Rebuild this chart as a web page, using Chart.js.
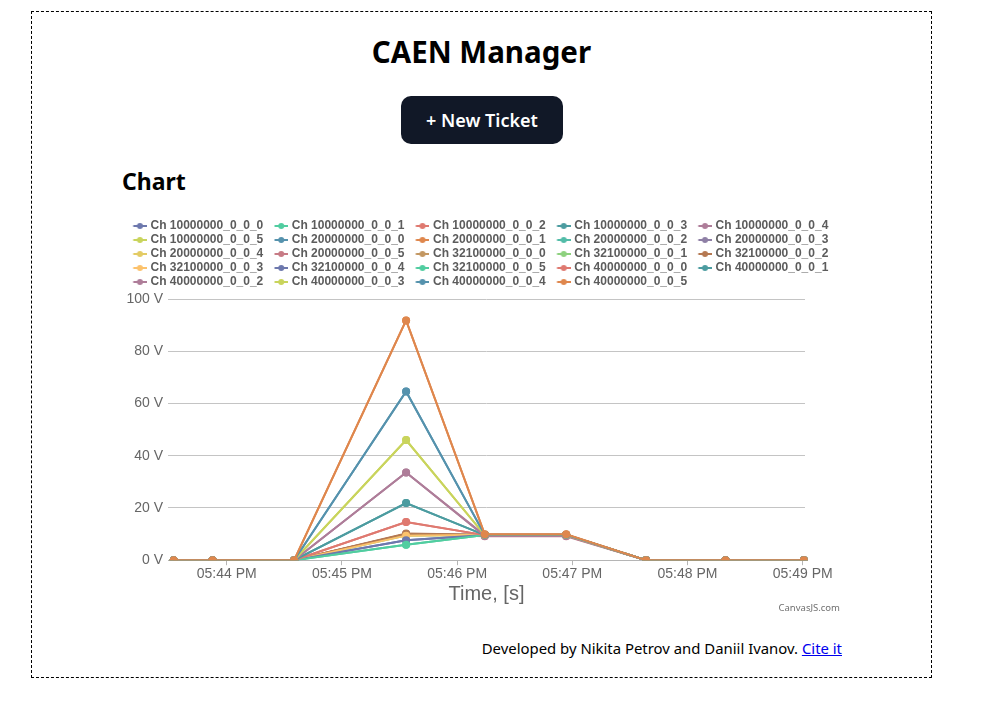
<!DOCTYPE html>
<html>
<head>
<meta charset="utf-8">
<title>CAEN Manager</title>
<script src="https://cdn.jsdelivr.net/npm/chart.js@4"></script>
<style>
  html, body { margin: 0; padding: 0; background: #fff; }
  body { position: relative; width: 981px; height: 726px; overflow: hidden; font-family: "Noto Sans", sans-serif; color: #000; }
  .frame { position: absolute; left: 31px; top: 11px; width: 899px; height: 665px; border: 1px dashed #000; }
  h1 { position: absolute; left: 31px; width: 901px; top: 32px; margin: 0; text-align: center; font-size: 29.5px; line-height: 40px; font-weight: 700; }
  .btn { position: absolute; left: 401px; top: 96px; width: 162px; height: 48px; border-radius: 10px; background: #111827; color: #fff; font-size: 18px; font-weight: 600; line-height: 48px; text-align: center; }
  h2 { position: absolute; left: 122px; top: 166px; margin: 0; font-size: 23px; line-height: 30px; font-weight: 700; }
  .chartbox { position: absolute; left: 122px; top: 210px; width: 720px; height: 394px; }
  .credit { position: absolute; right: 141px; top: 601px; font-family: "Noto Sans", sans-serif; font-size: 9.5px; line-height: 14px; color: #707070; }
  .footer { position: absolute; right: 139px; top: 637px; font-size: 14.9px; line-height: 22px; }
  .footer a { color: #0000ee; text-decoration: underline; }
</style>
</head>
<body>
<div class="frame"></div>
<h1>CAEN Manager</h1>
<div class="btn">+ New Ticket</div>
<h2>Chart</h2>
<div class="chartbox"><canvas id="chart"></canvas></div>
<div class="credit">CanvasJS.com</div>
<div class="footer">Developed by Nikita Petrov and Daniil Ivanov. <a href="#">Cite it</a></div>

<script>
// ---- data ----
const times = [43.54, 43.877, 44.585, 45.557, 46.24, 46.947, 47.64, 48.33, 49.01]; // minutes after 05:00 PM
const xTickValues = [44, 45, 46, 47, 48, 49];
const xTickLabels = ['05:44 PM', '05:45 PM', '05:46 PM', '05:47 PM', '05:48 PM', '05:49 PM'];
const yTickValues = [0, 20, 40, 60, 80, 100];
const yUnit = ' V';

const channelNames = [
  'Ch 10000000_0_0_0', 'Ch 10000000_0_0_1', 'Ch 10000000_0_0_2', 'Ch 10000000_0_0_3', 'Ch 10000000_0_0_4', 'Ch 10000000_0_0_5',
  'Ch 20000000_0_0_0', 'Ch 20000000_0_0_1', 'Ch 20000000_0_0_2', 'Ch 20000000_0_0_3', 'Ch 20000000_0_0_4', 'Ch 20000000_0_0_5',
  'Ch 32100000_0_0_0', 'Ch 32100000_0_0_1', 'Ch 32100000_0_0_2', 'Ch 32100000_0_0_3', 'Ch 32100000_0_0_4', 'Ch 32100000_0_0_5',
  'Ch 40000000_0_0_0', 'Ch 40000000_0_0_1', 'Ch 40000000_0_0_2', 'Ch 40000000_0_0_3', 'Ch 40000000_0_0_4', 'Ch 40000000_0_0_5'
];

const ch10_0 = [0, 0, 0, 7.6, 9.6, 9.6, 0, 0, 0];
const ch10_1 = [0, 0, 0, 5.9, 9.6, 9.6, 0, 0, 0];
const ch10_2 = [0, 0, 0, 14.6, 9.6, 9.6, 0, 0, 0];
const ch10_3 = [0, 0, 0, 21.9, 9.6, 9.6, 0, 0, 0];
const ch10_4 = [0, 0, 0, 33.6, 9.5, 9.5, 0, 0, 0];
const ch10_5 = [0, 0, 0, 46.0, 9.6, 9.6, 0, 0, 0];
const ch20_0 = [0, 0, 0, 64.6, 9.6, 9.6, 0, 0, 0];
const ch20_1 = [0, 0, 0, 91.8, 9.8, 9.8, 0, 0, 0];
const ch20_2 = [0, 0, 0, 9.8, 9.6, 9.6, 0, 0, 0];
const ch20_3 = [0, 0, 0, 9.9, 9.6, 9.6, 0, 0, 0];
const ch20_4 = [0, 0, 0, 9.7, 9.6, 9.6, 0, 0, 0];
const ch20_5 = [0, 0, 0, 10.0, 9.2, 9.2, 0, 0, 0];
const ch32_0 = [0, 0, 0, 10.0, 9.6, 9.6, 0, 0, 0];
const ch32_1 = [0, 0, 0, 9.4, 9.6, 9.6, 0, 0, 0];
const ch32_2 = [0, 0, 0, 10.2, 9.7, 9.7, 0, 0, 0];
const ch32_3 = [0, 0, 0, 9.4, 9.7, 9.7, 0, 0, 0];
const ch32_4 = [0, 0, 0, 7.6, 9.6, 9.6, 0, 0, 0];
const ch32_5 = [0, 0, 0, 5.9, 9.6, 9.6, 0, 0, 0];
const ch40_0 = [0, 0, 0, 14.6, 9.6, 9.6, 0, 0, 0];
const ch40_1 = [0, 0, 0, 21.9, 9.6, 9.6, 0, 0, 0];
const ch40_2 = [0, 0, 0, 33.6, 9.3, 9.3, 0, 0, 0];
const ch40_3 = [0, 0, 0, 46.0, 9.6, 9.6, 0, 0, 0];
const ch40_4 = [0, 0, 0, 64.6, 9.7, 9.7, 0, 0, 0];
const ch40_5 = [0, 0, 0, 91.8, 9.9, 9.9, 0, 0, 0];

const seriesList = [ch10_0, ch10_1, ch10_2, ch10_3, ch10_4, ch10_5,
                    ch20_0, ch20_1, ch20_2, ch20_3, ch20_4, ch20_5,
                    ch32_0, ch32_1, ch32_2, ch32_3, ch32_4, ch32_5,
                    ch40_0, ch40_1, ch40_2, ch40_3, ch40_4, ch40_5];

const palette = ['#6D78AD', '#51CDA0', '#DF7970', '#4C9CA0', '#AE7D99', '#C9D45C', '#5592AD', '#DF874D',
                 '#52BCA8', '#8E7FA5', '#E3CB64', '#C77B85', '#C39762', '#8DD17E', '#B57952', '#FCC26C'];

// ---- legend marker (line with dot) ----
function makeMarker(color) {
  const c = document.createElement('canvas');
  c.width = 25; c.height = 8;
  const g = c.getContext('2d');
  g.strokeStyle = color; g.lineWidth = 2;
  g.beginPath(); g.moveTo(11.5, 4); g.lineTo(25, 4); g.stroke();
  g.fillStyle = color;
  g.beginPath(); g.arc(18.2, 4, 3, 0, Math.PI * 2); g.fill();
  return c;
}
const markers = palette.map(makeMarker);

const N = channelNames.length;
const datasets = channelNames.map((name, i) => {
  const col = palette[i % palette.length];
  return {
    label: name,
    data: seriesList[i].map((v, k) => ({ x: times[k], y: v })),
    borderColor: col,
    backgroundColor: col,
    borderWidth: 2,
    pointRadius: 4,
    pointHoverRadius: 4,
    pointBorderWidth: 0,
    tension: 0,
    fill: false,
    order: N - i,
    clip: { left: 10, top: 10, right: 10, bottom: 0 }
  };
});

Chart.defaults.font.family = '"Liberation Sans", Arial, sans-serif';

const legendSpacer = {
  id: 'legendSpacer',
  beforeInit(chart) {
    const orig = chart.legend.fit;
    chart.legend.fit = function () {
      orig.call(this);
      this.height += 1;
    };
  }
};

new Chart(document.getElementById('chart'), {
  type: 'line',
  data: { datasets },
  plugins: [legendSpacer],
  options: {
    responsive: true,
    maintainAspectRatio: false,
    animation: false,
    layout: { padding: { top: 8, left: 0, right: 0, bottom: 0 } },
    plugins: {
      tooltip: { enabled: false },
      legend: {
        position: 'top',
        align: 'start',
        labels: {
          usePointStyle: true,
          pointStyleWidth: 20.5,
          padding: 2,
          color: '#5c5c5c',
          font: { size: 12, weight: 'bold' },
          sort: (a, b) => a.datasetIndex - b.datasetIndex,
          generateLabels(chart) {
            const items = Chart.defaults.plugins.legend.labels.generateLabels(chart);
            items.forEach(it => { it.pointStyle = markers[it.datasetIndex % markers.length]; });
            return items;
          }
        }
      }
    },
    scales: {
      x: {
        type: 'linear',
        min: 43.49,
        max: 49.02,
        afterBuildTicks(scale) { scale.ticks = xTickValues.map(v => ({ value: v })); },
        ticks: {
          color: '#666',
          font: { size: 14 },
          padding: 1,
          maxRotation: 0,
          autoSkip: false,
          callback: (v) => xTickLabels[xTickValues.indexOf(v)]
        },
        grid: { display: true, drawOnChartArea: false, drawTicks: true, tickLength: 5, color: '#b5b5b5' },
        border: { display: true, color: '#b5b5b5', width: 1 },
        title: { display: true, text: 'Time, [s]', color: '#666', font: { size: 20, lineHeight: 1 }, padding: { top: 0, bottom: 0 } }
      },
      y: {
        min: 0,
        max: 100,
        afterBuildTicks(scale) { scale.ticks = yTickValues.map(v => ({ value: v })); },
        afterFit(scale) { scale.width = 46; },
        ticks: { color: '#666', font: { size: 14 }, padding: 5, callback: (v) => v + yUnit },
        grid: { color: '#c4c4c4', drawTicks: false },
        border: { display: false }
      },
      yR: {
        position: 'right',
        display: true,
        afterFit(scale) { scale.width = 37; },
        ticks: { display: false },
        grid: { display: false },
        border: { display: false }
      }
    }
  }
});
</script>
</body>
</html>
